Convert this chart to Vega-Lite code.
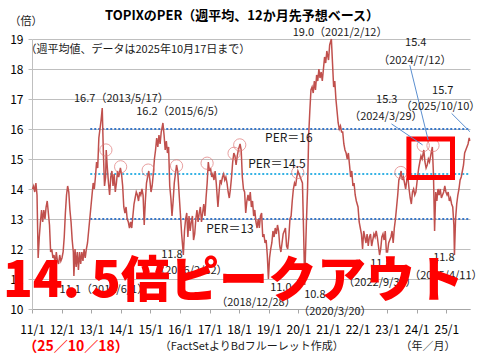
{
"$schema":"https://vega.github.io/schema/vega-lite/v6.json",
"width":438,"height":270,
"autosize":{"type":"none"},
"padding":{"left":32,"top":39,"right":10,"bottom":51},
"background":"white",
"config":{"view":{"stroke":null},"font":"Noto Sans CJK JP"},
"datasets":{
"s":[
{"d":"2011-01-07","v":14.0},{"d":"2011-01-21","v":14.1},{"d":"2011-02-04","v":13.9},{"d":"2011-02-18","v":14.2},{"d":"2011-03-04","v":13.8},{"d":"2011-03-18","v":11.7},{"d":"2011-04-01","v":12.4},{"d":"2011-04-15","v":12.9},{"d":"2011-04-29","v":13.3},{"d":"2011-05-13","v":12.9},{"d":"2011-05-27","v":13.3},{"d":"2011-06-10","v":13.0},{"d":"2011-06-24","v":13.4},{"d":"2011-07-08","v":13.6},{"d":"2011-07-22","v":13.2},{"d":"2011-08-05","v":12.8},{"d":"2011-08-19","v":11.9},{"d":"2011-09-02","v":12.0},{"d":"2011-09-16","v":11.7},{"d":"2011-09-30","v":11.8},{"d":"2011-10-14","v":11.5},{"d":"2011-10-28","v":11.9},{"d":"2011-11-11","v":11.6},{"d":"2011-11-25","v":11.5},{"d":"2011-12-09","v":11.8},{"d":"2011-12-23","v":11.6},
{"d":"2012-01-06","v":11.7},{"d":"2012-01-20","v":11.9},{"d":"2012-02-03","v":12.4},{"d":"2012-02-17","v":13.2},{"d":"2012-03-02","v":13.8},{"d":"2012-03-16","v":14.1},{"d":"2012-03-30","v":13.9},{"d":"2012-04-13","v":13.3},{"d":"2012-04-27","v":12.9},{"d":"2012-05-11","v":12.3},{"d":"2012-05-25","v":11.9},{"d":"2012-06-01","v":11.1},{"d":"2012-06-15","v":12.0},{"d":"2012-06-29","v":11.4},{"d":"2012-07-13","v":11.9},{"d":"2012-07-27","v":11.3},{"d":"2012-08-10","v":11.9},{"d":"2012-08-24","v":11.5},{"d":"2012-09-07","v":11.9},{"d":"2012-09-21","v":11.6},{"d":"2012-10-05","v":12.0},{"d":"2012-10-19","v":11.7},{"d":"2012-11-02","v":12.0},{"d":"2012-11-16","v":12.2},{"d":"2012-11-30","v":12.6},{"d":"2012-12-14","v":13.0},{"d":"2012-12-28","v":13.4},
{"d":"2013-01-11","v":13.8},{"d":"2013-01-25","v":14.2},{"d":"2013-02-08","v":14.0},{"d":"2013-02-22","v":14.4},{"d":"2013-03-08","v":14.9},{"d":"2013-03-22","v":14.7},{"d":"2013-04-05","v":15.7},{"d":"2013-04-19","v":16.0},{"d":"2013-05-03","v":16.3},{"d":"2013-05-17","v":16.7},{"d":"2013-05-31","v":15.2},{"d":"2013-06-14","v":14.1},{"d":"2013-06-28","v":14.4},{"d":"2013-07-05","v":15.3},{"d":"2013-07-19","v":14.7},{"d":"2013-08-02","v":14.2},{"d":"2013-08-16","v":13.8},{"d":"2013-08-30","v":14.4},{"d":"2013-09-13","v":14.6},{"d":"2013-09-27","v":14.1},{"d":"2013-10-11","v":14.5},{"d":"2013-10-25","v":13.9},{"d":"2013-11-08","v":14.2},{"d":"2013-11-22","v":14.6},{"d":"2013-12-06","v":14.4},{"d":"2013-12-27","v":14.7},
{"d":"2014-01-10","v":14.5},{"d":"2014-01-24","v":14.1},{"d":"2014-02-07","v":13.4},{"d":"2014-02-21","v":13.2},{"d":"2014-03-07","v":13.4},{"d":"2014-03-21","v":13.0},{"d":"2014-04-04","v":12.9},{"d":"2014-04-18","v":12.7},{"d":"2014-05-02","v":12.9},{"d":"2014-05-16","v":12.7},{"d":"2014-05-30","v":13.1},{"d":"2014-06-13","v":13.5},{"d":"2014-06-27","v":13.7},{"d":"2014-07-11","v":13.9},{"d":"2014-07-25","v":13.8},{"d":"2014-08-08","v":13.6},{"d":"2014-08-22","v":13.9},{"d":"2014-09-05","v":13.8},{"d":"2014-09-19","v":14.0},{"d":"2014-10-03","v":13.8},{"d":"2014-10-17","v":12.8},{"d":"2014-10-31","v":13.6},{"d":"2014-11-14","v":14.2},{"d":"2014-11-28","v":14.4},{"d":"2014-12-12","v":14.6},{"d":"2014-12-26","v":14.3},
{"d":"2015-01-09","v":13.9},{"d":"2015-01-23","v":14.1},{"d":"2015-02-06","v":14.5},{"d":"2015-02-20","v":15.0},{"d":"2015-03-06","v":15.3},{"d":"2015-03-20","v":15.7},{"d":"2015-04-03","v":15.4},{"d":"2015-04-17","v":15.8},{"d":"2015-05-01","v":15.5},{"d":"2015-05-15","v":15.9},{"d":"2015-06-05","v":16.2},{"d":"2015-06-19","v":15.8},{"d":"2015-07-03","v":15.3},{"d":"2015-07-17","v":15.6},{"d":"2015-07-31","v":15.2},{"d":"2015-08-14","v":15.4},{"d":"2015-08-28","v":14.1},{"d":"2015-09-11","v":13.7},{"d":"2015-09-25","v":13.1},{"d":"2015-10-09","v":13.6},{"d":"2015-10-23","v":14.2},{"d":"2015-11-06","v":14.5},{"d":"2015-11-20","v":14.8},{"d":"2015-12-04","v":14.6},{"d":"2015-12-18","v":14.0},
{"d":"2016-01-08","v":13.1},{"d":"2016-01-22","v":12.5},{"d":"2016-02-12","v":11.8},{"d":"2016-02-26","v":12.6},{"d":"2016-03-11","v":13.0},{"d":"2016-03-25","v":13.2},{"d":"2016-04-08","v":12.4},{"d":"2016-04-22","v":13.1},{"d":"2016-05-06","v":12.6},{"d":"2016-05-20","v":12.9},{"d":"2016-06-03","v":13.1},{"d":"2016-06-17","v":12.3},{"d":"2016-07-01","v":12.5},{"d":"2016-07-15","v":13.0},{"d":"2016-07-29","v":13.3},{"d":"2016-08-12","v":12.9},{"d":"2016-08-26","v":13.2},{"d":"2016-09-09","v":13.4},{"d":"2016-09-23","v":12.9},{"d":"2016-10-07","v":13.2},{"d":"2016-10-21","v":13.5},{"d":"2016-11-04","v":13.1},{"d":"2016-11-18","v":13.7},{"d":"2016-12-02","v":14.2},{"d":"2016-12-16","v":14.9},{"d":"2016-12-30","v":14.6},
{"d":"2017-01-13","v":14.7},{"d":"2017-01-27","v":14.4},{"d":"2017-02-10","v":14.5},{"d":"2017-02-24","v":14.3},{"d":"2017-03-10","v":14.6},{"d":"2017-03-24","v":14.2},{"d":"2017-04-14","v":13.4},{"d":"2017-04-28","v":13.9},{"d":"2017-05-12","v":14.3},{"d":"2017-05-26","v":14.2},{"d":"2017-06-09","v":14.4},{"d":"2017-06-23","v":14.5},{"d":"2017-07-07","v":14.3},{"d":"2017-07-21","v":14.4},{"d":"2017-08-04","v":14.2},{"d":"2017-08-18","v":13.9},{"d":"2017-09-01","v":13.7},{"d":"2017-09-15","v":14.0},{"d":"2017-09-29","v":14.4},{"d":"2017-10-13","v":14.9},{"d":"2017-10-27","v":15.2},{"d":"2017-11-10","v":15.1},{"d":"2017-11-24","v":14.8},{"d":"2017-12-08","v":15.1},{"d":"2017-12-22","v":15.3},
{"d":"2018-01-12","v":15.5},{"d":"2018-01-26","v":15.3},{"d":"2018-02-09","v":14.4},{"d":"2018-02-23","v":14.0},{"d":"2018-03-09","v":13.9},{"d":"2018-03-23","v":13.2},{"d":"2018-04-06","v":13.6},{"d":"2018-04-20","v":13.8},{"d":"2018-05-04","v":13.6},{"d":"2018-05-18","v":13.9},{"d":"2018-06-01","v":13.4},{"d":"2018-06-15","v":13.6},{"d":"2018-06-29","v":13.1},{"d":"2018-07-13","v":13.3},{"d":"2018-07-27","v":12.9},{"d":"2018-08-10","v":12.7},{"d":"2018-08-24","v":13.0},{"d":"2018-09-07","v":12.7},{"d":"2018-09-21","v":13.1},{"d":"2018-10-05","v":13.2},{"d":"2018-10-19","v":12.4},{"d":"2018-11-02","v":12.5},{"d":"2018-11-16","v":12.2},{"d":"2018-11-30","v":12.3},{"d":"2018-12-14","v":11.8},{"d":"2018-12-28","v":11.0},
{"d":"2019-01-11","v":11.7},{"d":"2019-01-25","v":12.0},{"d":"2019-02-08","v":12.2},{"d":"2019-02-22","v":12.6},{"d":"2019-03-08","v":12.4},{"d":"2019-03-22","v":12.7},{"d":"2019-04-05","v":12.5},{"d":"2019-04-19","v":12.8},{"d":"2019-05-03","v":12.6},{"d":"2019-05-17","v":12.1},{"d":"2019-05-31","v":11.9},{"d":"2019-06-14","v":12.2},{"d":"2019-06-28","v":12.5},{"d":"2019-07-12","v":12.6},{"d":"2019-07-26","v":12.7},{"d":"2019-08-09","v":12.1},{"d":"2019-08-23","v":12.0},{"d":"2019-09-06","v":12.4},{"d":"2019-09-20","v":13.0},{"d":"2019-10-04","v":13.1},{"d":"2019-10-18","v":13.6},{"d":"2019-11-01","v":14.0},{"d":"2019-11-15","v":14.2},{"d":"2019-11-29","v":14.1},{"d":"2019-12-13","v":14.4},{"d":"2019-12-27","v":14.6},
{"d":"2020-01-10","v":14.5},{"d":"2020-01-24","v":14.4},{"d":"2020-02-07","v":14.3},{"d":"2020-02-21","v":14.2},{"d":"2020-03-06","v":12.6},{"d":"2020-03-20","v":10.8},{"d":"2020-03-27","v":11.6},{"d":"2020-04-10","v":12.9},{"d":"2020-04-24","v":14.0},{"d":"2020-05-08","v":15.8},{"d":"2020-05-22","v":16.6},{"d":"2020-06-05","v":17.3},{"d":"2020-06-19","v":17.4},{"d":"2020-07-03","v":17.2},{"d":"2020-07-17","v":17.6},{"d":"2020-07-31","v":17.3},{"d":"2020-08-14","v":17.8},{"d":"2020-08-28","v":17.6},{"d":"2020-09-11","v":18.0},{"d":"2020-09-25","v":17.7},{"d":"2020-10-09","v":17.9},{"d":"2020-10-23","v":17.6},{"d":"2020-11-06","v":18.0},{"d":"2020-11-20","v":18.4},{"d":"2020-12-04","v":18.2},{"d":"2020-12-18","v":18.6},
{"d":"2021-01-08","v":18.3},{"d":"2021-01-22","v":18.8},{"d":"2021-02-12","v":19.0},{"d":"2021-02-26","v":18.2},{"d":"2021-03-12","v":17.4},{"d":"2021-03-26","v":17.6},{"d":"2021-04-09","v":17.0},{"d":"2021-04-23","v":16.6},{"d":"2021-05-07","v":16.2},{"d":"2021-05-21","v":16.0},{"d":"2021-06-04","v":16.1},{"d":"2021-06-18","v":15.9},{"d":"2021-07-02","v":15.9},{"d":"2021-07-16","v":15.5},{"d":"2021-07-30","v":15.3},{"d":"2021-08-13","v":15.2},{"d":"2021-08-27","v":15.0},{"d":"2021-09-10","v":15.2},{"d":"2021-09-24","v":14.8},{"d":"2021-10-08","v":14.4},{"d":"2021-10-22","v":14.6},{"d":"2021-11-05","v":14.1},{"d":"2021-11-19","v":14.2},{"d":"2021-12-03","v":13.8},{"d":"2021-12-17","v":13.6},
{"d":"2022-01-07","v":13.4},{"d":"2022-01-21","v":12.9},{"d":"2022-02-04","v":12.7},{"d":"2022-02-18","v":12.5},{"d":"2022-03-04","v":12.0},{"d":"2022-03-18","v":12.6},{"d":"2022-04-01","v":12.4},{"d":"2022-04-15","v":12.2},{"d":"2022-04-29","v":12.5},{"d":"2022-05-13","v":12.1},{"d":"2022-05-27","v":12.4},{"d":"2022-06-10","v":12.5},{"d":"2022-06-24","v":12.1},{"d":"2022-07-08","v":12.3},{"d":"2022-07-22","v":12.5},{"d":"2022-08-05","v":12.4},{"d":"2022-08-19","v":12.6},{"d":"2022-09-02","v":12.4},{"d":"2022-09-16","v":12.1},{"d":"2022-09-30","v":11.8},{"d":"2022-10-14","v":12.0},{"d":"2022-10-28","v":12.4},{"d":"2022-11-11","v":12.5},{"d":"2022-11-25","v":12.3},{"d":"2022-12-09","v":12.6},{"d":"2022-12-23","v":11.9},
{"d":"2023-01-06","v":11.9},{"d":"2023-01-20","v":12.2},{"d":"2023-02-03","v":12.3},{"d":"2023-02-17","v":12.4},{"d":"2023-03-03","v":12.6},{"d":"2023-03-17","v":12.2},{"d":"2023-03-31","v":12.7},{"d":"2023-04-14","v":13.0},{"d":"2023-04-28","v":13.4},{"d":"2023-05-12","v":13.8},{"d":"2023-05-26","v":14.3},{"d":"2023-06-09","v":14.4},{"d":"2023-06-23","v":14.6},{"d":"2023-07-07","v":14.3},{"d":"2023-07-21","v":14.4},{"d":"2023-08-04","v":14.2},{"d":"2023-08-18","v":14.0},{"d":"2023-09-01","v":14.3},{"d":"2023-09-15","v":14.4},{"d":"2023-09-29","v":14.0},{"d":"2023-10-13","v":13.7},{"d":"2023-10-27","v":13.5},{"d":"2023-11-10","v":13.9},{"d":"2023-11-24","v":14.0},{"d":"2023-12-08","v":13.8},{"d":"2023-12-22","v":13.9},
{"d":"2024-01-12","v":14.4},{"d":"2024-01-26","v":14.7},{"d":"2024-02-09","v":14.9},{"d":"2024-02-23","v":15.1},{"d":"2024-03-08","v":15.0},{"d":"2024-03-29","v":15.3},{"d":"2024-04-12","v":14.9},{"d":"2024-04-26","v":14.7},{"d":"2024-05-10","v":14.8},{"d":"2024-05-24","v":15.0},{"d":"2024-06-07","v":14.9},{"d":"2024-06-21","v":15.1},{"d":"2024-07-12","v":15.4},{"d":"2024-07-26","v":14.5},{"d":"2024-08-09","v":12.6},{"d":"2024-08-23","v":13.9},{"d":"2024-09-06","v":13.6},{"d":"2024-09-20","v":14.0},{"d":"2024-10-04","v":13.8},{"d":"2024-10-18","v":14.0},{"d":"2024-11-01","v":13.7},{"d":"2024-11-15","v":13.8},{"d":"2024-11-29","v":13.9},{"d":"2024-12-13","v":14.1},{"d":"2024-12-27","v":13.9},
{"d":"2025-01-10","v":13.8},{"d":"2025-01-24","v":13.9},{"d":"2025-02-07","v":13.6},{"d":"2025-02-21","v":13.7},{"d":"2025-03-07","v":13.5},{"d":"2025-03-21","v":13.4},{"d":"2025-04-04","v":12.8},{"d":"2025-04-11","v":11.8},{"d":"2025-04-25","v":13.0},{"d":"2025-05-09","v":13.5},{"d":"2025-05-23","v":13.8},{"d":"2025-06-06","v":14.0},{"d":"2025-06-20","v":14.3},{"d":"2025-07-04","v":14.4},{"d":"2025-07-18","v":14.6},{"d":"2025-08-01","v":14.8},{"d":"2025-08-15","v":15.2},{"d":"2025-08-29","v":15.3},{"d":"2025-09-12","v":15.4},{"d":"2025-09-26","v":15.5},{"d":"2025-10-10","v":15.7},{"d":"2025-10-17","v":15.6}
],
"per":[
{"d":"2012-12-20","d2":"2025-10-20","v":16,"name":"PER16"},
{"d":"2012-12-20","d2":"2025-10-20","v":14.5,"name":"PER14.5"},
{"d":"2012-12-20","d2":"2025-10-20","v":13,"name":"PER13"}
],
"circles":[
{"d":"2013-07-01","v":15.3},{"d":"2013-12-30","v":14.74},{"d":"2014-12-05","v":14.63},{"d":"2015-11-20","v":14.77},{"d":"2016-12-01","v":14.86},{"d":"2017-10-30","v":15.19},{"d":"2018-01-08","v":15.47},{"d":"2019-12-25","v":14.55},{"d":"2023-06-20","v":14.55},{"d":"2024-03-22","v":15.45},{"d":"2024-07-20","v":15.45}
],
"box":[{"d":"2023-09-27","d2":"2025-03-18","v":14.38,"v2":15.67}],
"arrows":[
{"d":"2023-02-24","v":16.17,"d2":"2024-03-14","v2":15.47},
{"d":"2023-10-08","v":18.13,"d2":"2024-05-22","v2":15.63},
{"d":"2025-03-07","v":16.52,"d2":"2025-10-19","v2":15.91}
],
"ann":[
{"d":"2010-10-19","v":19.57,"t":"（倍）"},
{"d":"2014-07-31","v":18.63,"t":"（週平均値、データは2025年10月17日まで）"},
{"d":"2014-01-08","v":17.0,"t":"16.7（2013/5/17）"},
{"d":"2016-01-08","v":16.57,"t":"16.2（2015/6/5）"},
{"d":"2021-05-30","v":19.2,"t":"19.0（2021/2/12）"},
{"d":"2023-12-20","v":18.87,"t":"15.4"},
{"d":"2023-12-09","v":18.27,"t":"（2024/7/12）"},
{"d":"2022-12-28","v":16.97,"t":"15.3"},
{"d":"2022-12-16","v":16.4,"t":"（2024/3/29）"},
{"d":"2024-11-18","v":17.27,"t":"15.7"},
{"d":"2024-10-22","v":16.73,"t":"（2025/10/10）"},
{"d":"2013-06-06","v":10.63,"t":"11.1（2012/6/1）"},
{"d":"2015-09-24","v":11.8,"t":"11.8"},
{"d":"2016-05-15","v":11.27,"t":"（2016/2/12）"},
{"d":"2019-05-30","v":10.7,"t":"11.0"},
{"d":"2018-07-27","v":10.2,"t":"（2018/12/28）"},
{"d":"2020-07-23","v":10.47,"t":"10.8"},
{"d":"2021-03-28","v":9.9,"t":"（2020/3/20）"},
{"d":"2022-10-16","v":11.5,"t":"11.8"},
{"d":"2022-10-04","v":10.87,"t":"（2022/9/30）"},
{"d":"2024-12-01","v":11.7,"t":"11.8"},
{"d":"2024-12-26","v":11.1,"t":"（2025/4/11）"},
{"d":"2018-06-06","v":8.73,"t":"（FactSetよりBdフルーレット作成）"},
{"d":"2024-05-19","v":8.73,"t":"（年／月）"}
],
"perlab":[
{"d":"2019-09-06","v":15.7,"t":"PER＝16"},
{"d":"2019-04-12","v":14.83,"t":"PER＝14.5"},
{"d":"2017-09-09","v":12.67,"t":"PER＝13"}
],
"title":[{"d":"2018-02-05","v":19.77,"t":"TOPIXのPER（週平均、12か月先予想ベース）"}],
"reddate":[{"d":"2012-06-27","v":8.73,"t":"（25／10／18）"}],
"big":[{"d":"2010-01-08","v":10.9,"t":"14. 5倍ピークアウト"}]
},
"encoding":{
"x":{"field":"d","type":"temporal","title":null,
 "scale":{"domain":[{"year":2011,"month":1,"date":1},{"year":2025,"month":10,"date":20}],"nice":false},
 "axis":{"values":[{"year":2011,"month":1,"date":1},{"year":2012,"month":1,"date":1},{"year":2013,"month":1,"date":1},{"year":2014,"month":1,"date":1},{"year":2015,"month":1,"date":1},{"year":2016,"month":1,"date":1},{"year":2017,"month":1,"date":1},{"year":2018,"month":1,"date":1},{"year":2019,"month":1,"date":1},{"year":2020,"month":1,"date":1},{"year":2021,"month":1,"date":1},{"year":2022,"month":1,"date":1},{"year":2023,"month":1,"date":1},{"year":2024,"month":1,"date":1},{"year":2025,"month":1,"date":1}],
  "format":"%y/%-m","grid":false,"domainColor":"#a6a6a6","tickColor":"#a6a6a6","tickSize":4,"labelPadding":11,"labelFontSize":12,"labelColor":"#000","labelFont":"Noto Sans CJK JP","labelFlush":false,"labelOverlap":false}},
"y":{"field":"v","type":"quantitative","title":null,
 "scale":{"domain":[10,19],"nice":false,"zero":false},
 "axis":{"values":[10,11,12,13,14,15,16,17,18,19],"grid":true,"gridColor":"#bfbfbf","gridWidth":1,"domainColor":"#bfbfbf","tickColor":"#bfbfbf","tickSize":4,"labelPadding":5,"labelFontSize":12,"labelColor":"#000","labelFont":"Noto Sans CJK JP"}}
},
"layer":[
{"data":{"name":"per"},"mark":{"type":"rule","strokeDash":[2,2],"strokeWidth":2},
 "encoding":{"x2":{"field":"d2"},"color":{"field":"name","type":"nominal","scale":{"domain":["PER16","PER14.5","PER13"],"range":["#3a78c9","#35b2e4","#3a78c9"]},"legend":null}}},
{"data":{"name":"s"},"mark":{"type":"line","color":"#c0504d","strokeWidth":1.5}},
{"data":{"name":"circles"},"mark":{"type":"point","shape":"circle","filled":false,"stroke":"#e07878","strokeWidth":1,"size":150}},
{"data":{"name":"box"},"mark":{"type":"rect","fill":null,"fillOpacity":0,"stroke":"#ff0000","strokeWidth":5},
 "encoding":{"x2":{"field":"d2"},"y2":{"field":"v2"}}},
{"data":{"name":"arrows"},"mark":{"type":"rule","color":"#5b8fd0","strokeWidth":1},
 "encoding":{"x2":{"field":"d2"},"y2":{"field":"v2"}}},
{"data":{"name":"ann"},"mark":{"type":"text","fontSize":11,"color":"#1a1a1a","align":"center","baseline":"middle","font":"Noto Sans CJK JP"},
 "encoding":{"text":{"field":"t"}}},
{"data":{"name":"perlab"},"mark":{"type":"text","fontSize":12,"color":"#1a1a1a","align":"center","baseline":"middle","font":"Noto Sans CJK JP"},
 "encoding":{"text":{"field":"t"}}},
{"data":{"name":"title"},"mark":{"type":"text","fontSize":13,"fontWeight":"bold","color":"#000","align":"center","baseline":"middle","font":"Noto Sans CJK JP"},
 "encoding":{"text":{"field":"t"}}},
{"data":{"name":"reddate"},"mark":{"type":"text","fontSize":14,"fontWeight":"bold","color":"#ff0000","align":"center","baseline":"middle","font":"Noto Sans CJK JP"},
 "encoding":{"text":{"field":"t"}}},
{"data":{"name":"big"},"mark":{"type":"text","fontSize":49,"fontWeight":900,"color":"#ff0000","align":"left","baseline":"middle","font":"Noto Sans CJK JP"},
 "encoding":{"text":{"field":"t"}}}
]
}
